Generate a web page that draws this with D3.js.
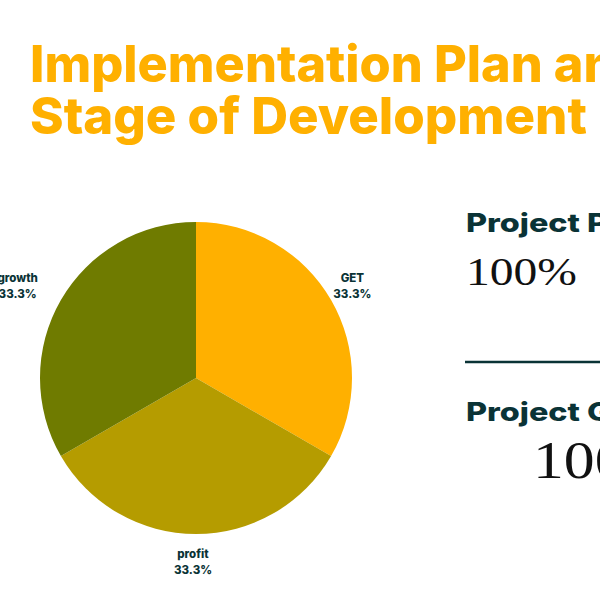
<!DOCTYPE html>
<html>
<head>
<meta charset="utf-8">
<script src="https://cdn.jsdelivr.net/npm/d3@7"></script>
<style>
  html, body { margin: 0; padding: 0; background: #fff; overflow: hidden; }
  svg { display: block; }
</style>
</head>
<body>
<svg></svg>
<script>
// données du graphique
const categories = ["GET", "profit", "growth"];
const values = [33.3, 33.3, 33.3];
const sliceColors = ["#FFB000", "#B59C00", "#6F7B00"];
const titleLines = ["Implementation Plan and", "Stage of Development"];
const kpiTitles = ["Project Progress", "Project Goal"];
const kpiValues = ["100%", "100%"];

const width = 600;
const height = 600;
const dark = "#0A3336";

const svg = d3.select("svg").attr("width", width).attr("height", height);

// étire un texte horizontalement pour que "ref" mesure "target" px
function stretch(sel, ref, target, x0) {
    sel.each(function () {
        const t = d3.select(this);
        const full = t.text();
        t.text(ref);
        const w = this.getComputedTextLength();
        t.text(full);
        const k = target / w;
        t.attr("transform", `translate(${x0},0) scale(${k},1) translate(${-x0},0)`);
    });
}

// titre
const title = svg.append("g")
    .selectAll("text")
    .data(titleLines)
    .join("text")
    .attr("x", 30)
    .attr("y", (d, i) => 82 + i * 52)
    .attr("fill", "#FFB000")
    .style("font-family", "Inter, 'Open Sans', sans-serif")
    .style("font-weight", 800)
    .style("font-size", "51px")
    .text(d => d);
stretch(title.filter((d, i) => i === 0), "Implementation", 393, 30);
stretch(title.filter((d, i) => i === 1), "Stage of Development", 557, 30);

// camembert
const cx = 196, cy = 378, radius = 156;
const pie = d3.pie().sort(null).value(d => d);
const arcs = pie(values);
const arc = d3.arc().innerRadius(0).outerRadius(radius);
const labelArc = d3.arc().innerRadius(184).outerRadius(184);

const pieGroup = svg.append("g").attr("transform", `translate(${cx},${cy})`);
pieGroup.selectAll("path")
    .data(arcs)
    .join("path")
    .attr("d", arc)
    .attr("fill", (d, i) => sliceColors[i]);

const labels = pieGroup.selectAll("g.label")
    .data(arcs)
    .join("g")
    .attr("class", "label")
    .attr("transform", d => {
        const [x, y] = labelArc.centroid(d);
        const shift = x < -100 ? -19 : -3;
        return `translate(${x + shift},${y})`;
    });
labels.append("text")
    .attr("y", -4)
    .text((d, i) => categories[i]);
labels.append("text")
    .attr("y", 12)
    .text(d => d.data.toFixed(1) + "%");
labels.selectAll("text")
    .attr("text-anchor", "middle")
    .attr("fill", dark)
    .style("font-family", "Inter, sans-serif")
    .style("font-weight", 800)
    .style("font-size", "11.5px");

// indicateurs à droite
const kpi = svg.append("g");
const heads = kpi.selectAll("text.head")
    .data(kpiTitles)
    .join("text")
    .attr("class", "head")
    .attr("x", 466)
    .attr("y", (d, i) => i === 0 ? 232 : 421)
    .attr("fill", dark)
    .style("font-family", "Inter, sans-serif")
    .style("font-weight", 800)
    .style("font-size", "26px")
    .text(d => d);
stretch(heads, "Project ", 114, 466);

kpi.append("line")
    .attr("x1", 465).attr("x2", 600)
    .attr("y1", 362).attr("y2", 362)
    .attr("stroke", dark)
    .attr("stroke-width", 2.5);

const nums = kpi.selectAll("text.num")
    .data(kpiValues)
    .join("text")
    .attr("class", "num")
    .attr("x", (d, i) => i === 0 ? 466 : 533)
    .attr("y", (d, i) => i === 0 ? 285 : 478)
    .attr("fill", "#111")
    .style("font-family", "'Liberation Serif', serif")
    .style("font-size", (d, i) => i === 0 ? "41px" : "53px")
    .text(d => d);
stretch(nums.filter((d, i) => i === 0), "100%", 111, 466);
stretch(nums.filter((d, i) => i === 1), "100%", 144, 533);
</script>
</body>
</html>
